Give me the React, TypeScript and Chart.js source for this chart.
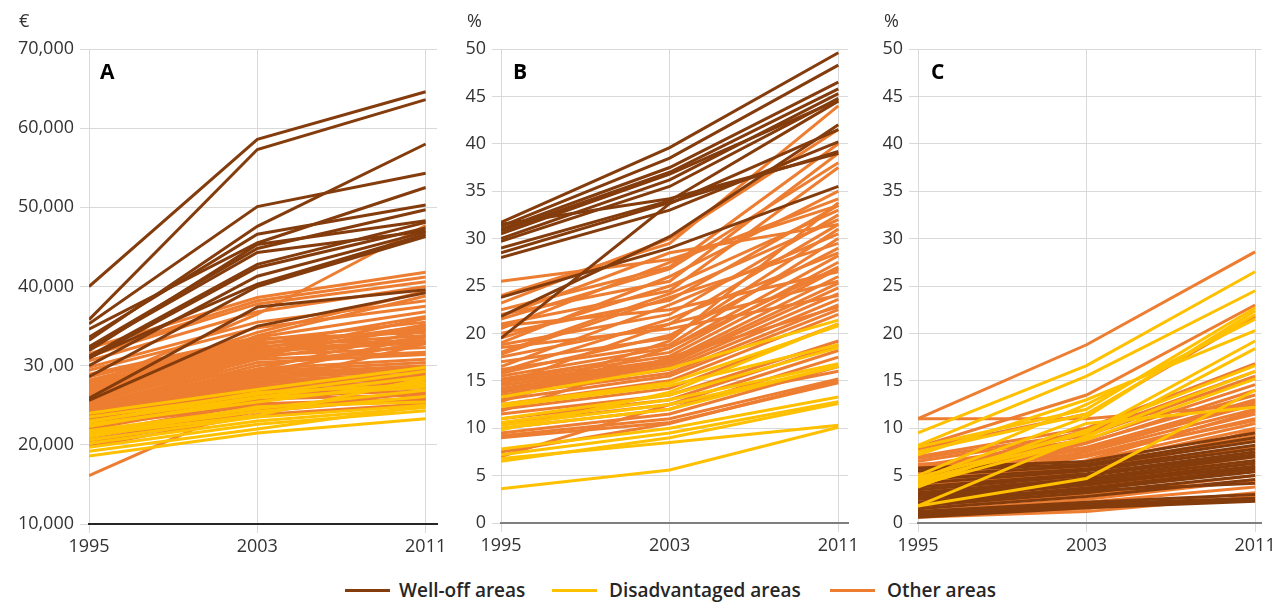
import React, { useEffect, useRef } from "react";
import { Chart, registerables } from "chart.js";

Chart.register(...registerables);

// ---------- data ----------
const years = [1995, 2003, 2011];

const yTicksA = [10000, 20000, 30000, 40000, 50000, 60000, 70000];
const yTickLabelsA = ["10,000", "20,000", "30 ,00", "40,000", "50,000", "60,000", "70,000"];
const yTicksPct = [0, 5, 10, 15, 20, 25, 30, 35, 40, 45, 50];
const yTickLabelsPct = ["0", "5", "10", "15", "20", "25", "30", "35", "40", "45", "50"];

const legendLabels = ["Well-off areas", "Disadvantaged areas", "Other areas"];
const panelLetters = ["A", "B", "C"];
const unitLabels = ["€", "%", "%"];

// Panel A – euros  [1995, 2003, 2011]
const wellOffA = [
  [40000, 58600, 64600], [35800, 57300, 63600], [33200, 47600, 58000], [35300, 50100, 54300],
  [34600, 45500, 52500], [33600, 46600, 50300], [32400, 44800, 49700], [31900, 45300, 48300],
  [31200, 42800, 48100], [30900, 42400, 47400], [30000, 41300, 46900], [28600, 40000, 46300],
  [32200, 44300, 47000], [31000, 40300, 46600], [25900, 37400, 39600], [25600, 35000, 39200],
];
const disadvantagedA = [
  [24000, 27000, 29800], [23500, 26400, 29300], [23000, 26000, 28600], [22600, 25400, 28000],
  [22300, 25900, 27300], [21800, 24600, 26900], [21500, 24200, 26100], [21000, 24800, 25400],
  [20600, 23500, 25000], [20200, 23000, 24700], [19700, 22600, 24300], [19200, 22000, 24900],
  [18600, 21500, 23300], [22900, 26600, 27600], [21200, 23700, 28400],
];
const otherA = [
  [32200, 38600, 41800], [31500, 38200, 41200], [31200, 37800, 40600], [30600, 36800, 40000],
  [29800, 35500, 38200], [27500, 36500, 47700], [29400, 34800, 37500], [28900, 33600, 36800],
  [28600, 33400, 34200], [28200, 33200, 35500], [27800, 33000, 33000], [27600, 32800, 34600],
  [27300, 32600, 36200], [27000, 32400, 33800], [26800, 32200, 35000], [26500, 32000, 33200],
  [26200, 31800, 32900], [26000, 31600, 34800], [25800, 31300, 32300], [25500, 31000, 33600],
  [25300, 30800, 31700], [25000, 30400, 31400], [24800, 30000, 32800], [24600, 29600, 30800],
  [24400, 29300, 30400], [24200, 29000, 30000], [24000, 28700, 29700], [23800, 28400, 29400],
  [23600, 28100, 29000], [23400, 27800, 28700], [23200, 27500, 28400], [23000, 27200, 28000],
  [22800, 26900, 27600], [22500, 26500, 27200], [22200, 26200, 26800], [22000, 25800, 26300],
  [21500, 25200, 25800], [20900, 24800, 25500], [20200, 24200, 26000], [16100, 25500, 28200],
  [28000, 31500, 36000], [26400, 29500, 34500], [25200, 28800, 33800], [24300, 27600, 32800],
  [23700, 31200, 35200], [22600, 29200, 33000], [27200, 34200, 39400], [25700, 33800, 38800],
  [21000, 25600, 27400], [20500, 24500, 26600], [22400, 25000, 25900], [19800, 23800, 25200],
];

// Panel B – percent
const wellOffB = [
  [31.7, 39.6, 49.6], [31.3, 38.5, 48.3], [31.0, 37.5, 46.5], [30.8, 37.0, 45.8],
  [30.0, 36.2, 45.3], [29.7, 35.5, 44.8], [29.0, 34.0, 44.5], [28.5, 33.8, 39.2],
  [28.0, 33.0, 40.2], [31.5, 34.2, 39.0], [23.8, 29.0, 35.5], [21.8, 30.2, 42.0],
  [19.5, 33.7, 41.5], [30.5, 36.8, 44.6],
];
const disadvantagedB = [
  [13.3, 16.3, 21.4], [12.5, 14.8, 20.8], [12.3, 14.5, 18.8], [11.0, 13.5, 18.5],
  [10.6, 13.0, 16.8], [10.3, 12.5, 16.5], [10.0, 12.0, 16.6], [9.8, 13.8, 21.0],
  [7.8, 10.0, 13.3], [7.2, 9.5, 12.8], [6.8, 8.5, 10.3], [6.5, 9.0, 12.6], [3.6, 5.6, 10.1],
];
const otherB = [
  [25.5, 27.8, 33.5], [24.0, 29.5, 44.0], [23.2, 30.0, 41.5], [22.5, 27.0, 40.0],
  [22.0, 25.5, 39.0], [21.5, 26.8, 38.0], [21.0, 24.5, 37.5], [20.5, 27.5, 34.2],
  [20.0, 23.5, 33.5], [19.5, 25.0, 33.0], [18.8, 22.0, 32.5], [18.0, 24.2, 32.0],
  [17.5, 21.0, 31.5], [17.0, 19.5, 31.0], [16.5, 23.0, 30.5], [16.2, 18.8, 30.0],
  [15.8, 19.8, 29.0], [15.5, 18.5, 28.2], [15.2, 18.0, 27.5], [15.0, 17.6, 26.8],
  [14.8, 17.2, 26.0], [14.5, 17.0, 25.3], [14.2, 16.8, 24.8], [14.0, 16.5, 24.2],
  [13.8, 16.2, 23.6], [13.5, 15.8, 23.0], [13.0, 15.5, 22.5], [12.5, 15.0, 22.0],
  [12.0, 14.2, 21.0], [11.5, 13.5, 19.2], [11.0, 13.0, 18.8], [10.5, 12.5, 18.2],
  [10.0, 12.0, 17.5], [9.5, 11.5, 16.5], [9.2, 11.0, 15.2], [9.0, 10.6, 14.8],
  [7.5, 10.5, 15.0], [7.0, 12.5, 16.0], [16.0, 21.5, 28.5], [19.0, 26.0, 35.0],
  [21.8, 28.5, 31.5], [18.5, 20.5, 24.0], [12.8, 18.5, 27.0], [14.6, 21.0, 25.5],
  [17.8, 23.8, 29.5], [11.8, 17.5, 22.8], [13.2, 19.2, 33.8], [20.8, 22.5, 26.5],
];

// Panel C – percent
const wellOffC = [
  [5.8, 6.5, 9.5], [5.5, 6.2, 9.0], [5.0, 6.0, 8.6], [4.6, 5.7, 8.2], [4.2, 5.5, 7.8],
  [3.8, 5.2, 7.5], [3.5, 5.0, 7.2], [3.2, 4.7, 7.0], [3.0, 4.5, 6.6], [2.8, 4.2, 6.3],
  [2.5, 4.0, 6.0], [2.2, 3.7, 5.7], [2.0, 3.5, 5.4], [1.8, 3.2, 5.0], [1.5, 2.8, 4.6],
  [1.2, 2.2, 3.0], [1.0, 2.0, 2.6], [0.8, 1.8, 2.4], [0.6, 1.6, 2.3], [3.6, 4.4, 5.8],
  [2.6, 3.4, 4.2],
];
const disadvantagedC = [
  [9.5, 16.6, 26.5], [8.2, 15.5, 24.5], [8.0, 12.0, 22.7], [7.5, 11.5, 22.0],
  [7.2, 13.0, 20.3], [5.0, 12.5, 21.5], [4.8, 9.5, 19.2], [4.5, 9.0, 18.4],
  [4.2, 9.8, 16.6], [4.0, 8.8, 15.2], [3.8, 10.5, 12.2], [1.8, 4.7, 14.0],
  [1.8, 9.2, 16.0], [4.6, 11.2, 22.4],
];
const otherC = [
  [11.0, 18.8, 28.6], [11.0, 11.0, 12.5], [8.0, 13.5, 23.0], [7.8, 11.5, 21.8],
  [7.0, 10.0, 16.8], [6.8, 9.5, 16.0], [6.5, 9.2, 15.5], [6.0, 8.8, 14.6],
  [5.8, 8.5, 13.5], [5.5, 8.0, 13.0], [5.0, 7.8, 12.5], [4.8, 7.5, 12.0],
  [4.5, 7.2, 11.5], [4.2, 7.0, 11.0], [4.0, 6.5, 10.5], [3.8, 6.2, 10.0],
  [3.5, 6.0, 9.2], [3.2, 5.8, 8.8], [3.0, 5.5, 8.0], [2.8, 5.0, 7.5],
  [2.5, 4.5, 7.0], [2.2, 4.2, 6.5], [2.0, 3.8, 6.0], [1.8, 3.5, 5.5],
  [1.5, 3.0, 5.0], [1.2, 2.5, 4.5], [1.0, 2.2, 3.8], [0.8, 1.5, 3.2],
  [0.6, 1.2, 2.8], [5.2, 9.8, 15.2], [4.4, 8.4, 14.0], [3.4, 7.6, 12.8],
  [2.6, 6.6, 11.8], [1.6, 4.8, 9.8], [6.2, 7.2, 10.8],
];

// ---------- styles ----------
const BROWN = "#843C0C";
const YELLOW = "#FFC000";
const ORANGE = "#ED7D31";
const GRID = "#d9d9d9";
const TEXT = "#333333";
const FONT = "'Open Sans', sans-serif";
const LINE_W = 3;

type Group = { rows: number[][]; color: string };

type PanelCfg = {
  left: number;
  width: number;
  height: number;
  yWidth: number;
  padTop: number;
  padRight: number;
  xHeight: number;
  xMax: number;
  yMin: number;
  yMax: number;
  yTicks: number[];
  yLabels: string[];
  axisColor: string;
  // layers from top to bottom; groups inside one layer are interleaved
  layers: Group[][];
};

function toDataset(r: number[], color: string) {
  return {
    data: years.map((yr, i) => ({ x: yr, y: r[i] })),
    borderColor: color,
    backgroundColor: color,
    borderWidth: LINE_W,
    pointRadius: 0,
    fill: false,
    tension: 0,
  };
}

function buildDatasets(layers: Group[][]) {
  const out: any[] = [];
  layers.forEach((layer) => {
    const n = Math.max(...layer.map((g) => g.rows.length));
    for (let i = 0; i < n; i++) {
      layer.forEach((g) => {
        if (i < g.rows.length) out.push(toDataset(g.rows[i], g.color));
      });
    }
  });
  return out;
}

function Panel({ cfg }: { cfg: PanelCfg }) {
  const ref = useRef<HTMLCanvasElement>(null);
  useEffect(() => {
    const chart = new Chart(ref.current as HTMLCanvasElement, {
      type: "line",
      data: { datasets: buildDatasets(cfg.layers) },
      options: {
        responsive: false,
        animation: false,
        events: [],
        layout: { padding: { top: cfg.padTop, right: cfg.padRight, left: 0, bottom: 0 } },
        plugins: { legend: { display: false }, tooltip: { enabled: false } },
        scales: {
          x: {
            type: "linear",
            min: 1995,
            max: cfg.xMax,
            afterBuildTicks: (s: any) => {
              s.ticks = years.map((v) => ({ value: v }));
            },
            afterFit: (s: any) => {
              s.height = cfg.xHeight;
            },
            ticks: {
              callback: (v: any) => String(v),
              color: TEXT,
              font: { family: FONT, size: 18 },
              padding: 3,
              maxRotation: 0,
              autoSkip: false,
            },
            grid: { color: GRID, lineWidth: 1, tickLength: 9, drawTicks: true },
            border: { display: true, color: cfg.axisColor, width: 2 },
          },
          y: {
            type: "linear",
            min: cfg.yMin,
            max: cfg.yMax,
            afterBuildTicks: (s: any) => {
              s.ticks = cfg.yTicks.map((v) => ({ value: v }));
            },
            afterFit: (s: any) => {
              s.width = cfg.yWidth;
            },
            ticks: {
              callback: (v: any) => cfg.yLabels[cfg.yTicks.indexOf(Number(v))],
              color: TEXT,
              font: { family: FONT, size: 18 },
              padding: 6,
            },
            grid: { color: GRID, lineWidth: 1, tickLength: 9, drawTicks: true },
            border: { display: false },
          },
        },
      } as any,
    });
    return () => chart.destroy();
  }, [cfg]);
  return (
    <canvas
      ref={ref}
      width={cfg.width}
      height={cfg.height}
      style={{ position: "absolute", left: cfg.left, top: 0, width: cfg.width, height: cfg.height }}
    />
  );
}

const panels: PanelCfg[] = [
  {
    left: 0, width: 460, height: 560, yWidth: 89, padTop: 49, padRight: 23, xHeight: 36,
    xMax: 2011.54, yMin: 10000, yMax: 70000, yTicks: yTicksA, yLabels: yTickLabelsA,
    axisColor: "#262626",
    layers: [
      [{ rows: wellOffA, color: BROWN }],
      [{ rows: disadvantagedA, color: YELLOW }, { rows: otherA, color: ORANGE }],
    ],
  },
  {
    left: 430, width: 440, height: 560, yWidth: 71, padTop: 49, padRight: 22, xHeight: 37,
    xMax: 2011.46, yMin: 0, yMax: 50, yTicks: yTicksPct, yLabels: yTickLabelsPct,
    axisColor: "#7f7f7f",
    layers: [
      [{ rows: disadvantagedB, color: YELLOW }],
      [{ rows: wellOffB, color: BROWN }],
      [{ rows: otherB, color: ORANGE }],
    ],
  },
  {
    left: 850, width: 429, height: 560, yWidth: 68, padTop: 49, padRight: 17, xHeight: 37,
    xMax: 2011.31, yMin: 0, yMax: 50, yTicks: yTicksPct, yLabels: yTickLabelsPct,
    axisColor: "#7f7f7f",
    layers: [
      [{ rows: disadvantagedC, color: YELLOW }],
      [{ rows: wellOffC, color: BROWN }, { rows: otherC, color: ORANGE }],
    ],
  },
];

const unitPos = [19, 467, 884];
const letterPos = [100, 513, 931];
const legendColors = [BROWN, YELLOW, ORANGE];
const legendSwatchX = [345, 552, 830];
const legendTextX = [399, 609, 887];

export default function App() {
  return (
    <div
      style={{
        position: "absolute",
        left: 0,
        top: 0,
        width: 1279,
        height: 604,
        background: "#ffffff",
        fontFamily: FONT,
        overflow: "hidden",
      }}
    >
      {panels.map((p, i) => (
        <Panel key={i} cfg={p} />
      ))}
      {unitLabels.map((u, i) => (
        <div
          key={"u" + i}
          style={{ position: "absolute", left: unitPos[i], top: 11, fontSize: 18, lineHeight: "18px", color: TEXT }}
        >
          {u}
        </div>
      ))}
      {panelLetters.map((l, i) => (
        <div
          key={"l" + i}
          style={{
            position: "absolute",
            left: letterPos[i],
            top: 61,
            fontSize: 21,
            lineHeight: "21px",
            fontWeight: 700,
            color: "#000",
          }}
        >
          {l}
        </div>
      ))}
      {legendLabels.map((t, i) => (
        <React.Fragment key={"g" + i}>
          <div
            style={{
              position: "absolute",
              left: legendSwatchX[i],
              top: 589,
              width: 45,
              height: 3,
              background: legendColors[i],
            }}
          />
          <div
            style={{
              position: "absolute",
              left: legendTextX[i],
              top: 578,
              fontSize: 19,
              lineHeight: "24px",
              fontWeight: 600,
              color: "#262626",
              whiteSpace: "nowrap",
            }}
          >
            {t}
          </div>
        </React.Fragment>
      ))}
    </div>
  );
}
